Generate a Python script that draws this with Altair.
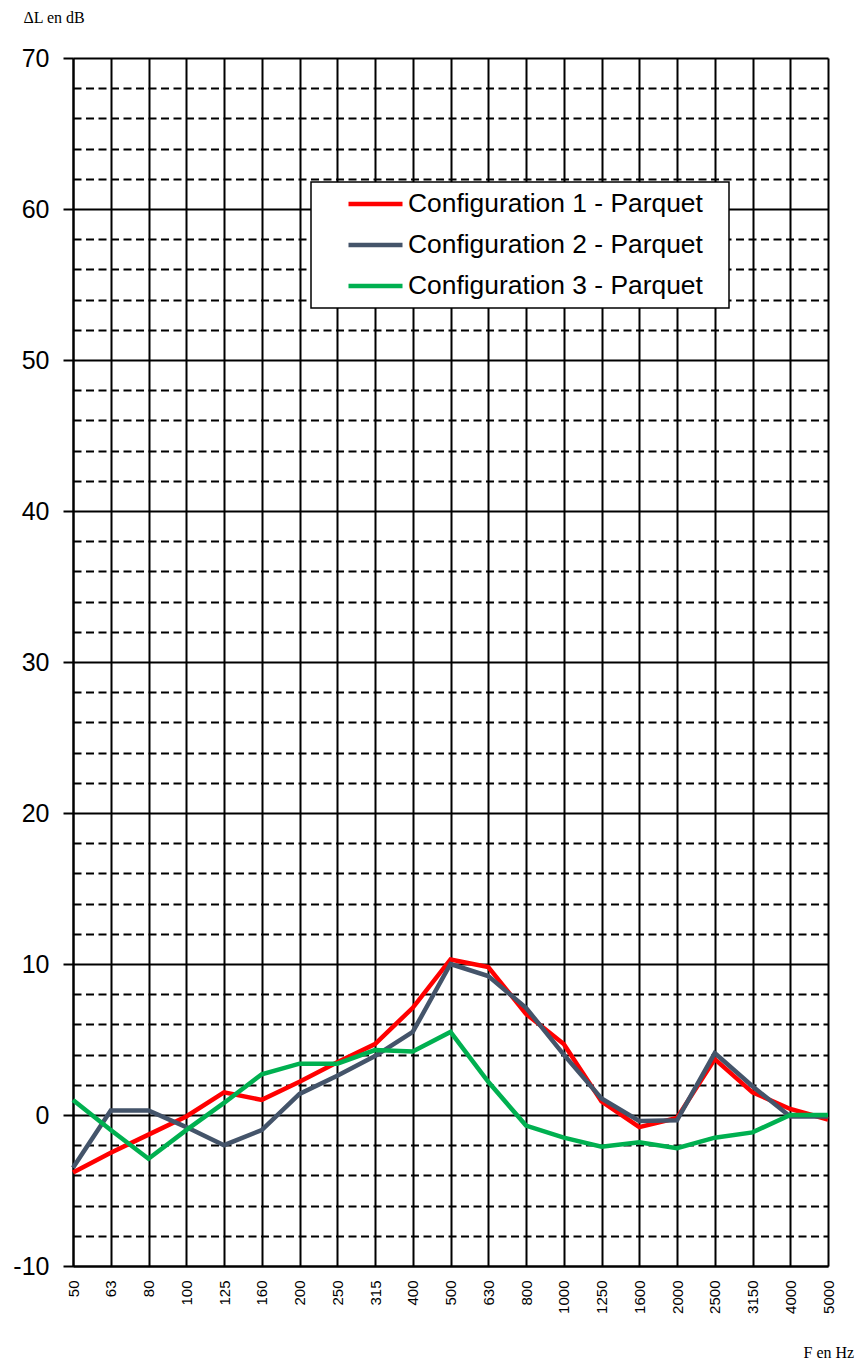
import altair as alt
import pandas as pd

freqs = ["50", "63", "80", "100", "125", "160", "200", "250", "315", "400", "500",
         "630", "800", "1000", "1250", "1600", "2000", "2500", "3150", "4000", "5000"]
config1 = [-3.8, -2.5, -1.3, -0.1, 1.5, 1.0, 2.2, 3.5, 4.7, 7.1, 10.3,
           9.8, 6.7, 4.7, 0.9, -0.8, -0.2, 3.7, 1.5, 0.4, -0.3]
config2 = [-3.5, 0.3, 0.3, -0.8, -2.0, -1.0, 1.4, 2.6, 3.9, 5.5, 10.0,
           9.2, 7.1, 4.0, 1.1, -0.4, -0.35, 4.1, 1.9, -0.1, -0.1]
config3 = [1.0, -1.0, -2.9, -1.0, 0.8, 2.7, 3.4, 3.4, 4.3, 4.2, 5.5,
           2.2, -0.7, -1.5, -2.1, -1.8, -2.2, -1.5, -1.15, 0.0, 0.0]
series_names = ["Configuration 1 - Parquet", "Configuration 2 - Parquet", "Configuration 3 - Parquet"]
series_colors = ["#FF0000", "#44546A", "#00B050"]
y_ticks = list(range(-10, 71, 2))

rows = []
for name, vals in zip(series_names, [config1, config2, config3]):
    for f, v in zip(freqs, vals):
        rows.append({"freq": f, "value": v, "series": name})
df = pd.DataFrame(rows)

major = "datum.value % 10 === 0"

x_axis = alt.Axis(
    title="F en Hz", titleFont="Liberation Serif", titleFontSize=16, titleFontWeight="normal",
    titleColor="black", titleAlign="left", titleBaseline="alphabetic", titleX=730, titleY=91,
    labelFont="Liberation Sans", labelFontSize=15, labelColor="black", labelAngle=270,
    labelAlign="right", labelBaseline="middle", labelPadding=14,
    ticks=False, grid=True, gridColor="black", gridWidth=2, gridOpacity=1,
    domain=True, domainColor="black", domainWidth=2,
)
y_axis = alt.Axis(
    title="ΔL en dB", titleFont="Liberation Serif", titleFontSize=16, titleFontWeight="normal",
    titleColor="black", titleAngle=0, titleAlign="left", titleBaseline="alphabetic",
    titleX=-50, titleY=-36,
    values=y_ticks, labelExpr=f"{major} ? ('' + datum.value) : ''",
    labelFont="Liberation Sans", labelFontSize=25, labelColor="black", labelPadding=14,
    ticks=True, tickSize=10, tickColor="black", tickWidth=2,
    tickOpacity={"condition": {"test": major, "value": 1}, "value": 0},
    grid=True, gridColor="black", gridWidth=2, gridOpacity=1,
    gridDash={"condition": {"test": major, "value": []}, "value": [8, 4.5]},
    domain=True, domainColor="black", domainWidth=2,
)

legend = alt.Legend(
    title=None, orient="none", legendX=238, legendY=124, direction="vertical",
    fillColor="white", strokeColor="black", padding=7,
    symbolType="stroke", symbolSize=2916, symbolStrokeWidth=4.5,
    labelFont="Liberation Sans", labelFontSize=26.4, labelColor="black", labelLimit=600,
    labelExpr="datum.label + '\u2800'",
    clipHeight=30, rowPadding=11, labelOffset=3, symbolOffset=28,
)

chart = alt.Chart(df).mark_line(strokeWidth=4.5).encode(
    x=alt.X("freq:N", sort=freqs, scale=alt.Scale(type="point", padding=0), axis=x_axis),
    y=alt.Y("value:Q", scale=alt.Scale(domain=[-10, 70], nice=False, zero=False), axis=y_axis),
    color=alt.Color("series:N", scale=alt.Scale(domain=series_names, range=series_colors), legend=legend),
).properties(
    width=755, height=1208,
    autosize=alt.AutoSizeParams(type="none"),
    padding={"left": 73, "top": 58, "right": 30, "bottom": 97},
    background="white",
).configure_view(stroke=None).configure_legend(strokeWidth=1.5)

chart.save("out.html", embed_options={"renderer": "svg", "actions": False})
